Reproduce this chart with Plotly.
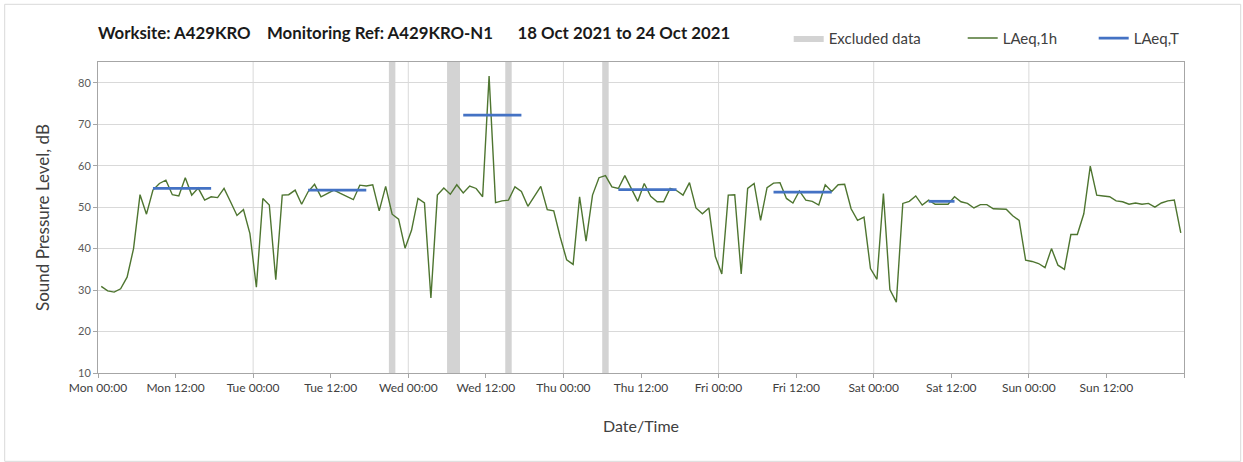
import pandas as pd
import plotly.graph_objects as go

# ---------------- data ----------------
START = pd.Timestamp("2021-10-18 00:00")

laeq_1h = [
    30.9, 29.8, 29.5, 30.3, 33.1, 40.0, 53.0, 48.3, 54.1, 55.7, 56.5, 53.0,
    52.7, 57.1, 52.9, 54.6, 51.7, 52.5, 52.3, 54.5, 51.3, 48.0, 49.4, 43.6,
    30.7, 52.1, 50.5, 32.5, 52.9, 53.0, 54.1, 50.7, 53.7, 55.5, 52.5, 53.3,
    54.1, 53.3, 52.6, 51.8, 55.3, 55.1, 55.4, 49.1, 55.0, 48.3,
    47.1, 40.1, 44.4, 52.1, 51.0, 28.1, 52.9, 54.6, 53.1, 55.4, 53.4, 55.1,
    54.5, 52.5, 81.6, 51.1, 51.5, 51.7, 54.9, 53.8, 50.2, 52.6, 55.0, 49.4,
    49.1, 42.8, 37.3, 36.2, 52.5, 41.8, 52.9, 57.1, 57.6, 54.9, 54.5, 57.6,
    54.5, 51.4, 55.7, 52.6, 51.3, 51.3, 54.5, 54.0,
    52.9, 55.9, 49.8, 48.4, 49.8, 38.1, 33.9, 52.9, 53.0, 33.9, 54.5, 55.7,
    46.8, 54.7, 55.8, 55.9, 52.1, 51.0, 53.9, 51.7, 51.4, 50.5, 55.4, 53.8,
    55.4, 55.5, 49.6, 46.8, 47.6, 35.2, 32.6, 53.3, 30.1, 27.1, 50.9, 51.4,
    52.7, 50.5, 51.7, 50.7, 50.7, 50.7, 52.5, 51.3,
    50.9, 49.8, 50.6, 50.6, 49.6, 49.5, 49.5, 47.9, 46.8, 37.2, 36.9, 36.4,
    35.4, 40.0, 36.0, 35.0, 43.4, 43.4, 48.4, 59.9, 52.9, 52.7, 52.5, 51.5,
    51.3, 50.7, 51.0, 50.7, 50.9, 50.0, 51.0, 51.5, 51.7, 43.8,
]

laeq_t_first_hour = [8, 32, 56, 80, 104, 128]
laeq_t_last_hour = [17, 41, 65, 89, 113, 132]
laeq_t_values = [54.5, 54.1, 72.2, 54.2, 53.6, 51.4]

excluded_start_hour = [45, 54, 63, 78]
excluded_end_hour = [46, 56, 64, 79]

tick_labels = ["Mon 00:00", "Mon 12:00", "Tue 00:00", "Tue 12:00",
               "Wed 00:00", "Wed 12:00", "Thu 00:00", "Thu 12:00",
               "Fri 00:00", "Fri 12:00", "Sat 00:00", "Sat 12:00",
               "Sun 00:00", "Sun 12:00", ""]
y_ticks = [10, 20, 30, 40, 50, 60, 70, 80]
Y_MIN, Y_MAX = 10, 85

# ---------------- derived ----------------
H = pd.Timedelta(hours=1)
times = [START + (i + 0.5) * H for i in range(len(laeq_1h))]

exc_x, exc_y = [], []
for s, e in zip(excluded_start_hour, excluded_end_hour):
    exc_x += [START + s * H, START + s * H, START + e * H, START + e * H, START + s * H, None]
    exc_y += [Y_MIN, Y_MAX, Y_MAX, Y_MIN, Y_MIN, None]

t_x, t_y = [], []
for a, b, v in zip(laeq_t_first_hour, laeq_t_last_hour, laeq_t_values):
    t_x += [START + (a + 0.5) * H, START + (b + 0.5) * H, None]
    t_y += [v, v, None]

tickvals = [START + 12 * k * H for k in range(len(tick_labels))]

FONT = "Lato"
TXT = "#404040"
AX = "#a6a6a6"

fig = go.Figure()
fig.add_trace(go.Scatter(x=exc_x, y=exc_y, mode="lines", fill="toself",
                         fillcolor="#d3d3d3", line=dict(width=0, color="#d3d3d3"),
                         name="Excluded data", legend="legend", hoverinfo="skip"))
fig.add_trace(go.Scatter(x=times, y=laeq_1h, mode="lines",
                         line=dict(color="#4e7530", width=1.4),
                         name="LAeq,1h", legend="legend2"))
fig.add_trace(go.Scatter(x=t_x, y=t_y, mode="lines",
                         line=dict(color="#4472c4", width=2.8),
                         name="LAeq,T", legend="legend3"))

# daily vertical gridlines
for d in range(1, 7):
    t = START + 24 * d * H
    fig.add_shape(type="line", xref="x", yref="paper", x0=t, x1=t, y0=0, y1=1,
                  line=dict(color="#d9d9d9", width=1), layer="below")

# plot geometry (px)
L, R, T, B = 98.3, 1184.3, 61.7, 372.7
W, HH = 1243, 462
pw, ph = R - L, B - T

def px_x(x):
    return (x - L) / pw

def px_y(y):
    return (B - y) / ph

# outer chart border
fig.add_shape(type="rect", xref="paper", yref="paper",
              x0=px_x(5), x1=px_x(1241), y0=px_y(461), y1=px_y(4),
              line=dict(color="#d9d9d9", width=1), fillcolor="rgba(0,0,0,0)")

leg_common = dict(orientation="h", yanchor="middle", y=px_y(38), xanchor="left",
                  bgcolor="rgba(0,0,0,0)", font=dict(family=FONT, size=15, color=TXT))

NB = "\u00a0"
title_text = ("<b>Worksite: A429KRO" + NB * 4 + "Monitoring Ref: A429KRO-N1" + NB * 6 +
              "18 Oct 2021 to 24 Oct 2021</b>")

fig.update_layout(
    width=W, height=HH,
    margin=dict(l=L, r=W - R, t=T, b=HH - B),
    paper_bgcolor="white", plot_bgcolor="white",
    font=dict(family=FONT, color=TXT),
    title=dict(text=title_text, x=98 / W, xanchor="left", y=1 - 33 / HH, yanchor="middle",
               font=dict(family=FONT, size=16.8, color="#1a1a1a")),
    showlegend=True,
    legend=dict(**leg_common, x=px_x(789)),
    legend2=dict(**leg_common, x=px_x(963)),
    legend3=dict(**leg_common, x=px_x(1094)),
    xaxis=dict(range=[START, START + 168 * H], tickmode="array", tickvals=tickvals,
               ticktext=tick_labels, showgrid=False, ticks="outside", ticklen=4,
               tickcolor=AX, showline=True, linecolor=AX, mirror=True, zeroline=False,
               tickfont=dict(family=FONT, size=12, color=TXT),
               title=dict(text="Date/Time", standoff=26,
                          font=dict(family=FONT, size=16, color=TXT))),
    yaxis=dict(range=[Y_MIN, Y_MAX], tickmode="array", tickvals=y_ticks,
               showgrid=True, gridcolor="#d9d9d9", gridwidth=1, ticks="outside",
               ticklen=4, tickcolor=AX, showline=True, linecolor=AX, mirror=True,
               zeroline=False, tickfont=dict(family=FONT, size=11, color="#595959"),
               title=dict(text="Sound Pressure Level, dB", standoff=24,
                          font=dict(family=FONT, size=17, color=TXT))),
)

fig.write_html("out.html", config={"displayModeBar": False},
               post_script="document.body.style.margin='0';")
